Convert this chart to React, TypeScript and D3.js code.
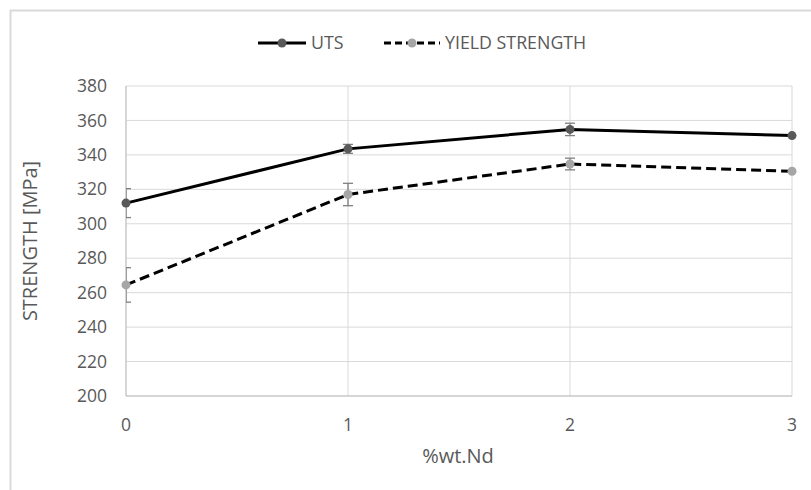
import React from "react";
import * as d3 from "d3";

// Neodymium content (%wt) on the x axis
const ndContent = [0, 1, 2, 3];
const xTicks = [0, 1, 2, 3];
const yTicks = [200, 220, 240, 260, 280, 300, 320, 340, 360, 380];

// Ultimate tensile strength and its error (MPa)
const utsValues = [312, 343.5, 354.8, 351.2];
const utsErrors = [8.4, 2.6, 3.6, 0];

// Yield strength and its error (MPa)
const yieldValues = [264.5, 317, 334.7, 330.5];
const yieldErrors = [10, 6.5, 3.4, 0];

const seriesNames = ["UTS", "YIELD STRENGTH"];

const W = 811;
const H = 490;
const plot = { left: 126, right: 792, top: 86, bottom: 396 };
const tickFont = "'Open Sans', 'DejaVu Sans', sans-serif";
const legendFont = "'Liberation Sans Narrow', 'Open Sans', sans-serif";
const textColor = "#595959";

export default function App() {
  const x = d3.scaleLinear().domain([0, 3]).range([plot.left, plot.right]);
  const y = d3.scaleLinear().domain([200, 380]).range([plot.bottom, plot.top]);

  const series = [
    { name: seriesNames[0], values: utsValues, errors: utsErrors, dash: undefined as string | undefined, marker: "#595959" },
    { name: seriesNames[1], values: yieldValues, errors: yieldErrors, dash: "10,5", marker: "#a6a6a6" },
  ];

  const line = d3
    .line<[number, number]>()
    .x((d) => x(d[0]))
    .y((d) => y(d[1]));

  const capHalf = 5;

  return (
    <svg
      width={W}
      height={H}
      viewBox={`0 0 ${W} ${H}`}
      style={{ position: "absolute", left: 0, top: 0, background: "#fff" }}
    >
      <defs>
        <clipPath id="plot-clip">
          <rect x={plot.left} y={0} width={plot.right - plot.left + 20} height={H} />
        </clipPath>
      </defs>

      {/* chart frame */}
      <rect x={10.5} y={10.5} width={W + 20} height={H + 20} fill="#fff" stroke="#d9d9d9" strokeWidth={2} />

      {/* horizontal gridlines */}
      {yTicks.map((t) => (
        <line key={`hg${t}`} x1={plot.left} x2={plot.right} y1={y(t)} y2={y(t)} stroke="#d9d9d9" strokeWidth={1} />
      ))}
      {/* vertical gridlines */}
      {xTicks.map((t) => (
        <line key={`vg${t}`} x1={x(t)} x2={x(t)} y1={plot.top} y2={plot.bottom} stroke="#d9d9d9" strokeWidth={1} />
      ))}
      {/* axes */}
      <line x1={plot.left} x2={plot.left} y1={plot.top} y2={plot.bottom} stroke="#bfbfbf" strokeWidth={1} />
      <line x1={plot.left} x2={plot.right} y1={plot.bottom} y2={plot.bottom} stroke="#bfbfbf" strokeWidth={1} />

      {/* y tick labels */}
      {yTicks.map((t) => (
        <text
          key={`yt${t}`}
          x={plot.left - 19}
          y={y(t)}
          dy="0.35em"
          textAnchor="end"
          fontFamily={tickFont}
          fontSize={17.5}
          fill={textColor}
        >
          {t}
        </text>
      ))}
      {/* x tick labels */}
      {xTicks.map((t) => (
        <text
          key={`xt${t}`}
          x={x(t)}
          y={plot.bottom + 29}
          dy="0.35em"
          textAnchor="middle"
          fontFamily={tickFont}
          fontSize={17.5}
          fill={textColor}
        >
          {t}
        </text>
      ))}

      {/* axis titles */}
      <text
        x={458}
        y={456}
        dy="0.35em"
        textAnchor="middle"
        fontFamily={tickFont}
        fontSize={20}
        fill={textColor}
      >
        %wt.Nd
      </text>
      <text
        transform={`translate(30, ${(plot.top + plot.bottom) / 2}) rotate(-90)`}
        dy="0.35em"
        textAnchor="middle"
        fontFamily={tickFont}
        fontSize={20}
        fill={textColor}
      >
        STRENGTH [MPa]
      </text>

      {/* error bars */}
      <g clipPath="url(#plot-clip)">
        {series.map((s) =>
          s.values.map((v, i) => {
            const e = s.errors[i];
            if (!e) return null;
            const cx = x(ndContent[i]);
            return (
              <g key={`eb${s.name}${i}`} stroke="#7f7f7f" strokeWidth={1.3}>
                <line x1={cx} x2={cx} y1={y(v + e)} y2={y(v - e)} />
                <line x1={cx - capHalf} x2={cx + capHalf} y1={y(v + e)} y2={y(v + e)} />
                <line x1={cx - capHalf} x2={cx + capHalf} y1={y(v - e)} y2={y(v - e)} />
              </g>
            );
          })
        )}
      </g>

      {/* series lines and markers */}
      {series.map((s) => {
        const pts = s.values.map((v, i) => [ndContent[i], v] as [number, number]);
        return (
          <g key={`s${s.name}`}>
            <path d={line(pts) ?? ""} fill="none" stroke="#000" strokeWidth={3} strokeDasharray={s.dash} />
            {pts.map((p, i) => (
              <circle key={i} cx={x(p[0])} cy={y(p[1])} r={4.5} fill={s.marker} />
            ))}
          </g>
        );
      })}

      {/* legend */}
      {[
        { s: series[0], x0: 258, x1: 306, tx: 311 },
        { s: series[1], x0: 384, x1: 440, tx: 445 },
      ].map(({ s, x0, x1, tx }) => (
        <g key={`lg${s.name}`}>
          <line x1={x0} x2={x1} y1={43} y2={43} stroke="#000" strokeWidth={3} strokeDasharray={s.dash ? "7,4" : undefined} />
          <circle cx={(x0 + x1) / 2} cy={43} r={4.5} fill={s.marker} />
          <text x={tx} y={43} dy="0.35em" fontFamily={legendFont} fontSize={17.8} fill={textColor}>
            {s.name}
          </text>
        </g>
      ))}
    </svg>
  );
}
